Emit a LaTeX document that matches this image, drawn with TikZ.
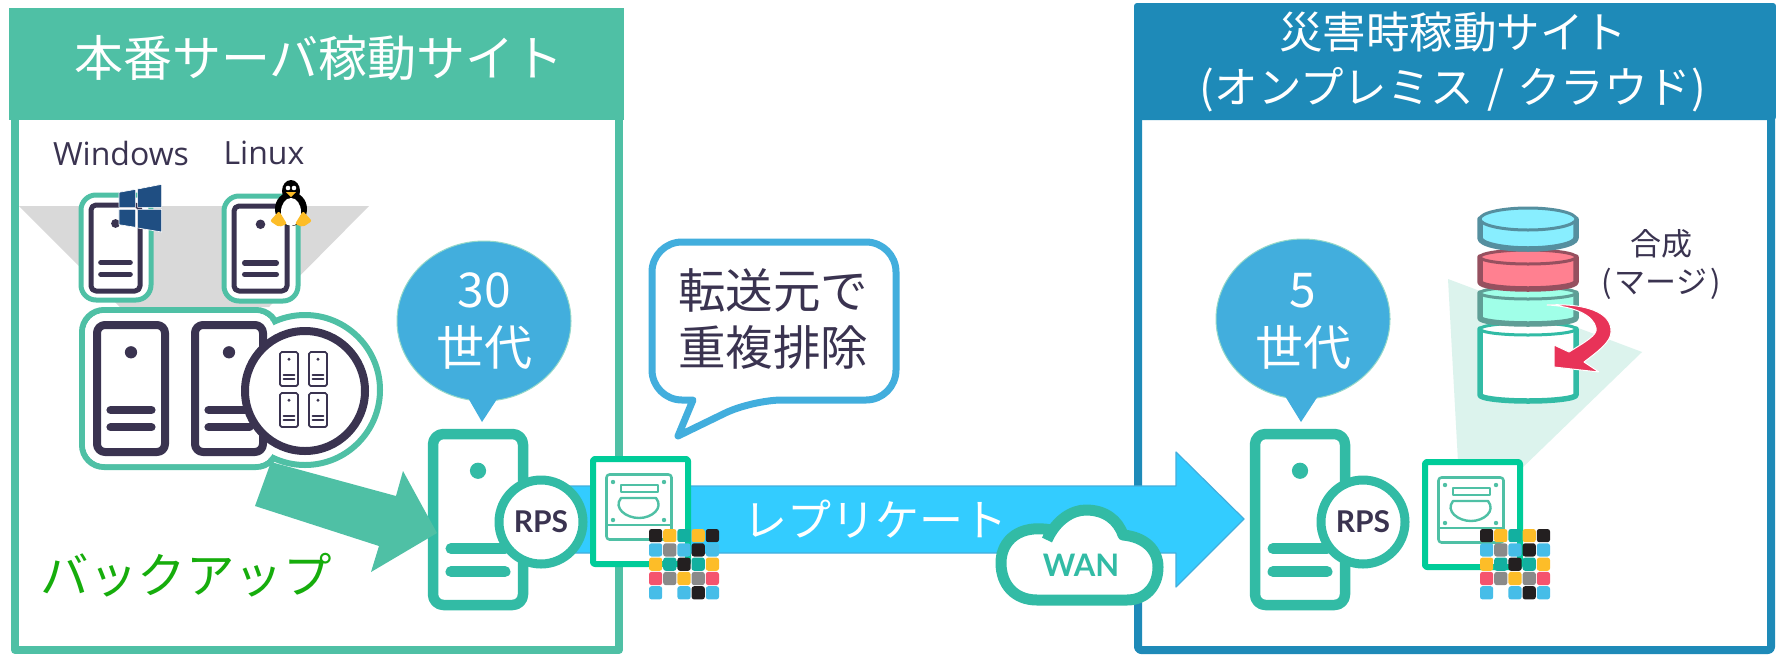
\documentclass[tikz,border=0pt]{standalone}
\usepackage{fontspec}
\setmainfont{Noto Sans CJK JP}
\newfontfamily\latinfont{Lato}
\newfontfamily\lightlatin{Open Sans}
\usetikzlibrary{positioning}

\definecolor{hdgreen}{HTML}{4FC0A5}
\definecolor{hdblue}{HTML}{1E8AB8}
\definecolor{tealline}{HTML}{32BBA5}
\definecolor{darkink}{HTML}{3A3350}
\definecolor{ballblue}{HTML}{42AEDD}
\definecolor{flowblue}{HTML}{33CCFF}
\definecolor{diskgreen}{HTML}{00CC99}
\definecolor{winblue}{HTML}{1F4E82}
\definecolor{backupgreen}{HTML}{16AD0C}
\definecolor{mergered}{HTML}{E83358}
\definecolor{cblack}{HTML}{231F20}
\definecolor{cyellow}{HTML}{FDBD28}
\definecolor{cteal}{HTML}{12B0A0}
\definecolor{cblue}{HTML}{46BDE8}
\definecolor{cgray}{HTML}{8A8A8A}
\definecolor{cred}{HTML}{F5536E}
\definecolor{layerblue}{HTML}{88EEFF}
\definecolor{edgeblue}{HTML}{558F9F}
\definecolor{layerred}{HTML}{FF8090}
\definecolor{edgered}{HTML}{96505F}
\definecolor{layeraqua}{HTML}{A0FFE8}
\definecolor{edgeaqua}{HTML}{5F9E96}

\newcommand{\serverbox}[6]{%
\draw[line width=#5pt, draw=#6, fill=white, rounded corners=#5 pt] (#1,#2) rectangle (#1+#3,#2+#4);
\fill[#6] (#1+#3*0.5,#2+#4*0.215) circle [radius=#3*0.09];
\draw[line width=#5*1.05pt, draw=#6, line cap=round] (#1+#3*0.2,#2+#4*0.67) -- (#1+#3*0.8,#2+#4*0.67);
\draw[line width=#5*1.05pt, draw=#6, line cap=round] (#1+#3*0.2,#2+#4*0.805) -- (#1+#3*0.8,#2+#4*0.805);
}

\newcommand{\colorgrid}[2]{%
\foreach \row [count=\r from 0] in {{cblack,cyellow,cteal,cyellow,cblack},{cblue,cgray,cblue,cblack,cblue},{cyellow,cteal,cblack,cteal,cyellow},{cred,cgray,cyellow,cgray,cred},{cblue,none,cblue,cblack,cblue}}
  \foreach \c [count=\k from 0] in \row
    \fill[fill=\c, rounded corners=2.5pt] (#1+\k*14.2,#2+\r*14.3) rectangle ++(13.2,13.2);
}

\newcommand{\diskbox}[2]{%
\begin{scope}[shift={(#1,#2)}]
\draw[line width=6pt, draw=diskgreen, fill=white, rounded corners=2pt] (3,3) rectangle (98,108);
\draw[line width=2.6pt, draw=hdgreen, rounded corners=3pt] (16.5,18.5) rectangle (81.5,83.5);
\draw[line width=2.6pt, draw=hdgreen] (16.5,69) -- (81.5,69);
\foreach \dx/\dy in {23/26,74/26,23/64,74/64} \fill[hdgreen] (\dx,\dy) circle [radius=2.2];
\draw[line width=2.2pt, draw=hdgreen] (31,29) rectangle (68,36);
\draw[line width=2.4pt, draw=hdgreen] (31,42) -- (66,42) .. controls (74,52) and (62,62) .. (49,62) .. controls (36,62) and (23,52) .. cycle;
\end{scope}
}

\newcommand{\cylin}[5]{%
\draw[line width=5.5pt, draw=#5, fill=#4] (1480,#1) -- (1480,#2) arc [start angle=180, end angle=0, x radius=48, y radius=#3] -- (1576,#1) -- cycle;
\draw[line width=3pt, draw=#5, fill=#4] (1528,#1) ellipse [x radius=48, y radius=#3];
}

\begin{document}
\begin{tikzpicture}[x=1pt, y=-1pt, line join=round,
  whitehead/.style = {text=white, align=center},
  darktext/.style = {text=darkink, align=center},
  ballmark/.style = {fill=ballblue, draw=hdgreen!60, line width=1pt},
  rpsring/.style = {draw=tealline, fill=white, line width=9pt},
  rpslabel/.style = {text=darkink, font=\latinfont\bfseries\fontsize{30}{34}\selectfont}]
\useasboundingbox (0,0) rectangle (1776,654);

\draw[line width=8pt, draw=hdgreen, fill=white] (15,60) rectangle (619,650);
\fill[hdgreen] (9,8) rectangle (624,120);
\draw[line width=8pt, draw=hdblue, fill=white, rounded corners=3pt] (1138,40) rectangle (1771,650);
\fill[hdblue, rounded corners=3pt] (1134,3) rectangle (1776,120);
\node[whitehead, font=\fontsize{49}{54}\selectfont] (maintitle) at (319,58) {本番サーバ稼動サイト};
\node[whitehead, font=\fontsize{43.5}{55}\selectfont] (drtitle) at (1453,62) {災害時稼動サイト\\(オンプレミス\hspace{0.3em}/\hspace{0.3em}クラウド)};

\fill[gray!30] (19,206) -- (369,206) -- (269,307) -- (120,307) -- cycle;
\node[darktext, font=\lightlatin\fontsize{32}{36}\selectfont] (winlabel) at (121,153) {Windows};
\node[darktext, font=\lightlatin\fontsize{32}{36}\selectfont] (linuxlabel) at (264,153) {Linux};

\draw[line width=5pt, draw=hdgreen, fill=white, rounded corners=15pt] (81,195) rectangle (151,300);
\serverbox{91}{205}{49}{86}{5}{darkink}
\draw[line width=5pt, draw=hdgreen, fill=white, rounded corners=15pt] (224,196) rectangle (298,301);
\serverbox{234}{206}{53}{85}{5}{darkink}

\begin{scope}[shift={(40,130)}, x=0.3333pt, y=-0.3333pt]
\filldraw[fill=winblue, draw=white, line width=0.6pt] (237,187) -- (287,178) -- (287,232) -- (237,232) -- cycle;
\filldraw[fill=winblue, draw=white, line width=0.6pt] (293,177) -- (365,163) -- (365,232) -- (293,232) -- cycle;
\filldraw[fill=winblue, draw=white, line width=0.6pt] (237,238) -- (287,238) -- (287,292) -- (237,284) -- cycle;
\filldraw[fill=winblue, draw=white, line width=0.6pt] (293,238) -- (365,238) -- (365,306) -- (293,294) -- cycle;
\end{scope}

\fill[black] (291,191) ellipse [x radius=9, y radius=11];
\fill[black] (291,209) ellipse [x radius=16, y radius=17];
\fill[white] (291,212) ellipse [x radius=10, y radius=14];
\fill[white] (288,188) circle [radius=2.3];
\fill[white] (294,188) circle [radius=2.3];
\fill[cyellow] (286,192) -- (296,192) -- (291,197) -- cycle;
\fill[cyellow, rounded corners=2pt] (270,221) -- (279,211) -- (287,224) -- (279,227) -- cycle;
\fill[cyellow, rounded corners=2pt] (295,224) -- (303,211) -- (312,221) -- (303,227) -- cycle;

\draw[line width=6pt, draw=hdgreen, fill=white, rounded corners=22pt] (82,310) rectangle (278,467);
\draw[line width=6pt, draw=hdgreen, fill=white] (305,390) circle [radius=75];
\fill[white, rounded corners=20pt] (85,313) rectangle (275,464);
\serverbox{97}{325}{68}{127}{8}{darkink}
\serverbox{195}{325}{68}{127}{8}{darkink}
\draw[line width=8pt, draw=darkink, fill=white] (305,391) circle [radius=60];
\serverbox{280}{352}{18}{34}{1.7}{darkink}
\serverbox{309}{352}{18}{34}{1.7}{darkink}
\serverbox{280}{393}{18}{34}{1.7}{darkink}
\serverbox{309}{393}{18}{34}{1.7}{darkink}

\draw[ballmark] (484,321) ellipse [x radius=87, y radius=80];
\fill[ballblue] (467,396) -- (499,396) -- (482,422) -- cycle;
\node[whitehead, font=\fontsize{48}{58}\selectfont] (keepthirty) at (484,321) {30\\世代};
\draw[ballmark] (1303,319) ellipse [x radius=87, y radius=80];
\fill[ballblue] (1285,396) -- (1318,396) -- (1301,422) -- cycle;
\node[whitehead, font=\fontsize{48}{58}\selectfont] (keepfive) at (1303,321) {5\\世代};

\draw[line width=1.2pt, draw=ballblue, fill=flowblue] (560,486) -- (1176,486) -- (1176,452) -- (1244,519) -- (1176,587) -- (1176,553) -- (560,553) -- cycle;
\node[whitehead, font=\fontsize{44}{48}\selectfont] (replabel) at (875,519) {レプリケート};

\draw[line width=7pt, draw=ballblue, fill=white, rounded corners=30pt] (770,242) -- (896,242) -- (896,400) -- (752,400) [sharp corners] -- (678,436) -- (693,400) [rounded corners=30pt] -- (652,400) -- (652,242) -- cycle;
\node[darktext, font=\fontsize{47.5}{57}\selectfont] (dedup) at (773,319) {転送元で\\重複排除};

\serverbox{433}{434}{90}{171}{10.5}{tealline}
\serverbox{1255}{434}{90}{171}{10.5}{tealline}
\fill[hdgreen] (271,462) -- (396,496) -- (403,471) -- (437,533) -- (371,572) -- (379,546) -- (255,506) -- cycle;
\draw[rpsring] (541,522) circle [radius=42];
\node[rpslabel] (rpsleft) at (541,522) {RPS};
\draw[rpsring] (1363,522) circle [radius=42];
\node[rpslabel] (rpsright) at (1363,522) {RPS};
\node[text=backupgreen, font=\fontsize{48.5}{52}\selectfont] (backuplabel) at (186,575) {バックアップ};

\diskbox{590}{456}
\colorgrid{649}{529}

\draw[line width=11pt, draw=tealline, fill=white] (1047,540) .. controls (1056,520) and (1072,510) .. (1086,510) .. controls (1105,510) and (1118,520) .. (1123,535) .. controls (1145,537) and (1158,550) .. (1158,567) .. controls (1158,587) and (1145,600) .. (1127,600) -- (1037,600) .. controls (1015,600) and (1001,585) .. (1001,563) .. controls (1001,540) and (1020,524) .. (1051,530);
\node[text=tealline, font=\latinfont\bfseries\fontsize{31}{36}\selectfont] (wanlabel) at (1081,565) {WAN};

\fill[hdgreen!20] (1448,279) -- (1642,352) -- (1520,470) -- (1458,462) -- cycle;
\diskbox{1422}{459}
\colorgrid{1480}{529}

\cylin{329}{395}{6}{white}{tealline}
\cylin{293}{318}{6}{layeraqua}{edgeaqua}
\cylin{257}{282}{7}{layerred}{edgered}
\cylin{219}{238}{11}{layerblue}{edgeblue}

\filldraw[fill=mergered, draw=white, line width=1pt] (1547,305) .. controls (1585,303) and (1612,312) .. (1611,332) .. controls (1611,342) and (1597,352) .. (1584,362) -- (1599,372) -- (1554,367) -- (1554,345) -- (1569,352) .. controls (1585,342) and (1598,335) .. (1596,328) .. controls (1594,316) and (1575,306) .. cycle;
\node[darktext, font=\fontsize{31}{38}\selectfont] (mergelabel) at (1661,265) {合成\\(\hspace{0.1em}マージ\hspace{0.1em})};

\end{tikzpicture}
\end{document}
